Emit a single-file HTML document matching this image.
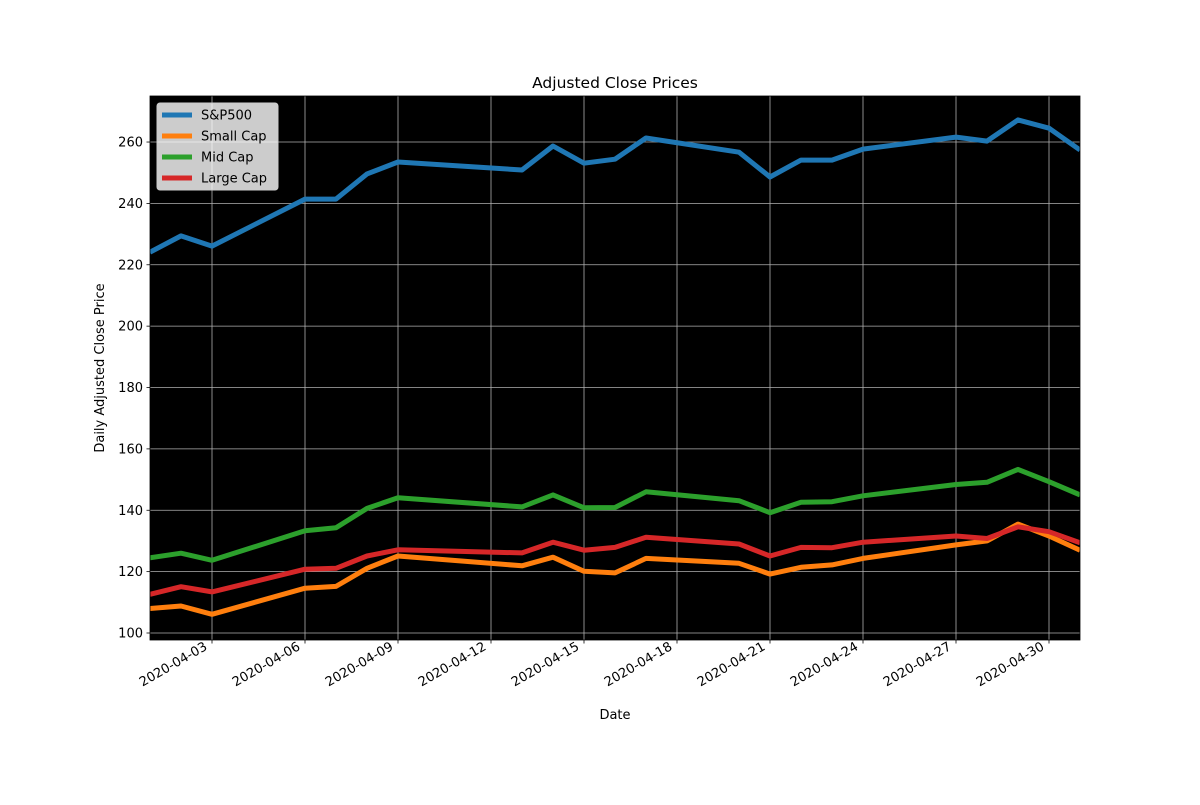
<!DOCTYPE html>
<html><head><meta charset="utf-8"><style>
body{margin:0;background:#fff;font-family:"Liberation Sans","DejaVu Sans",sans-serif}
svg text{font-family:"DejaVu Sans","Liberation Sans",sans-serif}
</style></head><body>
<svg id="chart" width="1200" height="800" xmlns="http://www.w3.org/2000/svg"></svg>
<script>
const dates=["2020-04-01","2020-04-02","2020-04-03","2020-04-06","2020-04-07","2020-04-08","2020-04-09","2020-04-13","2020-04-14","2020-04-15","2020-04-16","2020-04-17","2020-04-20","2020-04-21","2020-04-22","2020-04-23","2020-04-24","2020-04-27","2020-04-28","2020-04-29","2020-04-30","2020-05-01"];
const sp500=[224.1,229.4,226.1,241.4,241.4,249.6,253.5,250.9,258.7,253.1,254.4,261.3,256.7,248.6,254.1,254.1,257.7,261.6,260.3,267.2,264.5,257.4];
const smallCap=[108,108.8,106.1,114.6,115.2,121.1,125.1,121.9,124.7,120.1,119.6,124.3,122.7,119.2,121.4,122.2,124.3,128.7,130,135.5,131.6,127];
const midCap=[124.5,126,123.7,133.3,134.3,140.6,144.1,141.1,145,140.8,140.9,146,143.1,139.2,142.6,142.8,144.7,148.4,149.1,153.3,149.3,145];
const largeCap=[112.6,115.1,113.4,120.8,121.1,125.1,127.1,126.1,129.6,127,127.9,131.2,129,125.1,127.9,127.8,129.6,131.6,130.8,134.6,133,129.4];
const yTicks=[100,120,140,160,180,200,220,240,260];
const xTicks=["2020-04-03","2020-04-06","2020-04-09","2020-04-12","2020-04-15","2020-04-18","2020-04-21","2020-04-24","2020-04-27","2020-04-30"];
const seriesNames=["S&P500","Small Cap","Mid Cap","Large Cap"];
const seriesColors=["#1f77b4","#ff7f0e","#2ca02c","#d62728"];

const L=150,R=1080,T=96,B=640;
const t0=Date.parse("2020-04-01"),t1=Date.parse("2020-05-01");
const yMin=97.72,yMax=275;
const X=d=>L+(Date.parse(d)-t0)/(t1-t0)*(R-L);
const Y=v=>B-(v-yMin)/(yMax-yMin)*(B-T);
const svg=document.getElementById('chart');
const NS="http://www.w3.org/2000/svg";
function mk(tag,attrs,parent){const e=document.createElementNS(NS,tag);for(const k in attrs)e.setAttribute(k,attrs[k]);(parent||svg).appendChild(e);return e;}

const bg=mk('rect',{x:L,y:T,width:R-L,height:B-T,fill:'#000'});



yTicks.forEach(v=>{
  const y=Y(v);
  const g=mk('line',{x1:L,x2:R,y1:y,y2:y,stroke:'#b0b0b0','stroke-width':0.8});
  
  
  mk('line',{x1:L-3.5,x2:L,y1:y,y2:y,stroke:'#000','stroke-width':0.8});
  const t=mk('text',{x:L-7,y:y+4.5,'text-anchor':'end','font-size':13});
  t.textContent=v;
  
  
});
xTicks.forEach(d=>{
  const x=X(d);
  const g=mk('line',{x1:x,x2:x,y1:T,y2:B,stroke:'#b0b0b0','stroke-width':0.8});
  
  
  mk('line',{x1:x,x2:x,y1:B,y2:B+3.5,stroke:'#000','stroke-width':0.8});
  const ax=x-4,ay=B+9;
  const t=mk('text',{x:ax,y:ay,'text-anchor':'end','font-size':13,transform:`rotate(-30 ${ax} ${ay})`});
  t.textContent=d;
  
  
});

const clip=mk('clipPath',{id:'pc'});
mk('rect',{x:L,y:T,width:R-L,height:B-T},clip);
[sp500,smallCap,midCap,largeCap].forEach((s,i)=>{
  const pts=s.map((v,j)=>X(dates[j]).toFixed(1)+','+Y(v).toFixed(1)).join(' ');
  const p=mk('polyline',{points:pts,fill:'none',stroke:seriesColors[i],'stroke-width':5,'stroke-linejoin':'round','clip-path':'url(#pc)'});
  
  
});

const frame=mk('rect',{x:L,y:T,width:R-L,height:B-T,fill:'none',stroke:'#000','stroke-width':0.8});



const title=mk('text',{x:(L+R)/2,y:88,'text-anchor':'middle','font-size':15.5});
title.textContent='Adjusted Close Prices';


const xl=mk('text',{x:(L+R)/2,y:719,'text-anchor':'middle','font-size':13});
xl.textContent='Date';


const yl=mk('text',{x:104,y:(T+B)/2,'text-anchor':'middle','font-size':13,transform:`rotate(-90 104 ${(T+B)/2})`});
yl.textContent='Daily Adjusted Close Price';



const lg=mk('g',{});


mk('rect',{x:157,y:103,width:121,height:87,rx:3,fill:'#fff','fill-opacity':0.8,stroke:'#ccc','stroke-width':1},lg);
seriesNames.forEach((n,i)=>{
  const y=115+i*21;
  const e=mk('g',{},lg);
  
  
  mk('line',{x1:162,x2:192,y1:y,y2:y,stroke:seriesColors[i],'stroke-width':5},e);
  const t=mk('text',{x:201,y:y+4.5,'font-size':13},e);
  t.textContent=n;
});
</script>
</body></html>
